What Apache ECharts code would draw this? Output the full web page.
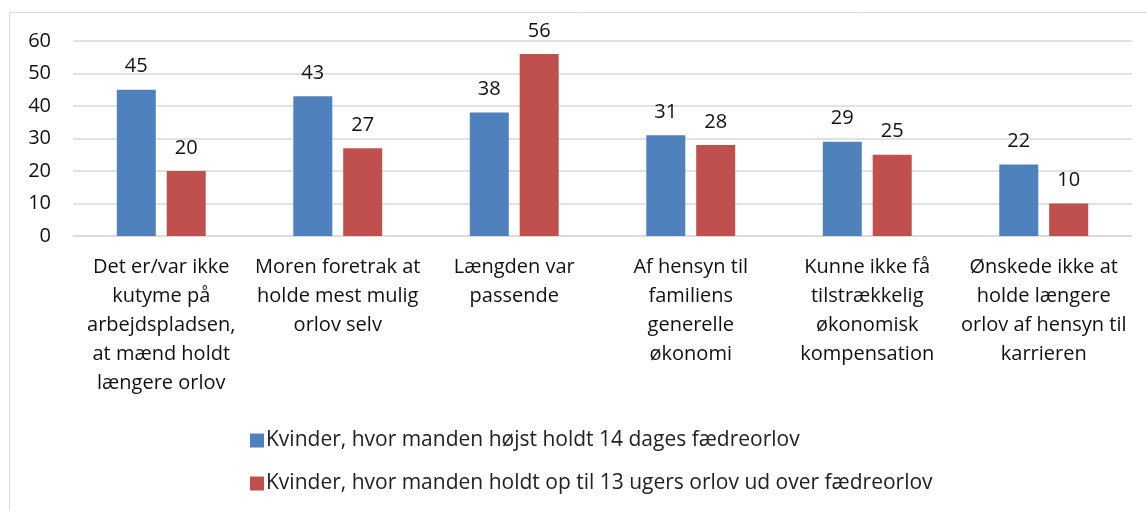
<!DOCTYPE html>
<html>
<head>
<meta charset="utf-8">
<script src="https://cdn.jsdelivr.net/npm/echarts@6/dist/echarts.min.js"></script>
<style>
  html, body { margin: 0; padding: 0; background: #fff; }
  #chart { width: 1147px; height: 511px; }
</style>
</head>
<body>
<div id="chart"></div>
<script>
// categories (line breaks as in the original)
var categories = [
  'Det er/var ikke\nkutyme på\narbejdspladsen,\nat mænd holdt\nlængere orlov',
  'Moren foretrak at\nholde mest mulig\norlov selv',
  'Længden var\npassende',
  'Af hensyn til\nfamiliens\ngenerelle\nøkonomi',
  'Kunne ikke få\ntilstrækkelig\nøkonomisk\nkompensation',
  'Ønskede ikke at\nholde længere\norlov af hensyn til\nkarrieren'
];
var seriesNames = [
  'Kvinder, hvor manden højst holdt 14 dages fædreorlov',
  'Kvinder, hvor manden holdt op til 13 ugers orlov ud over fædreorlov'
];
var blueVals = [45, 43, 38, 31, 29, 22];
var redVals = [20, 27, 56, 28, 25, 10];
var yTicks = { min: 0, max: 60, interval: 10 };

var FONT = '"Open Sans", "Noto Sans", sans-serif';
var FS = 20;
var chart = echarts.init(document.getElementById('chart'));

function setOption(chart) {
  var option = {
    backgroundColor: '#fff',
    color: ['#4F81BD', '#C0504D'],
    textStyle: { fontFamily: FONT },
    graphic: [{
      type: 'rect',
      shape: { x: 9.5, y: 12.5, width: 1160, height: 520 },
      style: { fill: 'none', stroke: '#d9d9d9', lineWidth: 1 },
      silent: true
    }],
    grid: {
      left: 73,
      right: 15,
      top: 41,
      bottom: 275
    },
    legend: {
      orient: 'vertical',
      left: 245,
      top: 425,
      itemWidth: 14,
      itemHeight: 14,
      itemGap: 22,
      icon: 'rect',
      data: seriesNames,
      textStyle: { fontSize: 21, color: '#222', fontFamily: FONT, padding: [0, 0, 0, -3] }
    },
    xAxis: {
      type: 'category',
      data: categories,
      axisLine: { lineStyle: { color: '#d9d9d9', width: 1.5 } },
      axisTick: { show: false },
      axisLabel: {
        interval: 0,
        margin: 17,
        fontSize: FS,
        lineHeight: 29,
        color: '#111',
        fontFamily: FONT
      }
    },
    yAxis: {
      type: 'value',
      min: yTicks.min,
      max: yTicks.max,
      interval: yTicks.interval,
      axisLine: { show: false },
      axisTick: { show: false },
      splitLine: { lineStyle: { color: '#d9d9d9', width: 1.5 } },
      axisLabel: {
        fontSize: FS,
        color: '#111',
        margin: 22,
        fontFamily: FONT
      }
    },
    series: [{
      name: seriesNames[0],
      type: 'bar',
      data: blueVals,
      barWidth: 39,
      barGap: '28%',
      label: {
        show: true,
        position: 'top',
        distance: 13,
        fontSize: FS,
        color: '#111',
        fontFamily: FONT
      }
    }, {
      name: seriesNames[1],
      type: 'bar',
      data: redVals,
      barWidth: 39,
      label: {
        show: true,
        position: 'top',
        distance: 13,
        fontSize: FS,
        color: '#111',
        fontFamily: FONT
      }
    }]
  };
  chart.setOption(option);
}
setOption(chart);
</script>
</body>
</html>
